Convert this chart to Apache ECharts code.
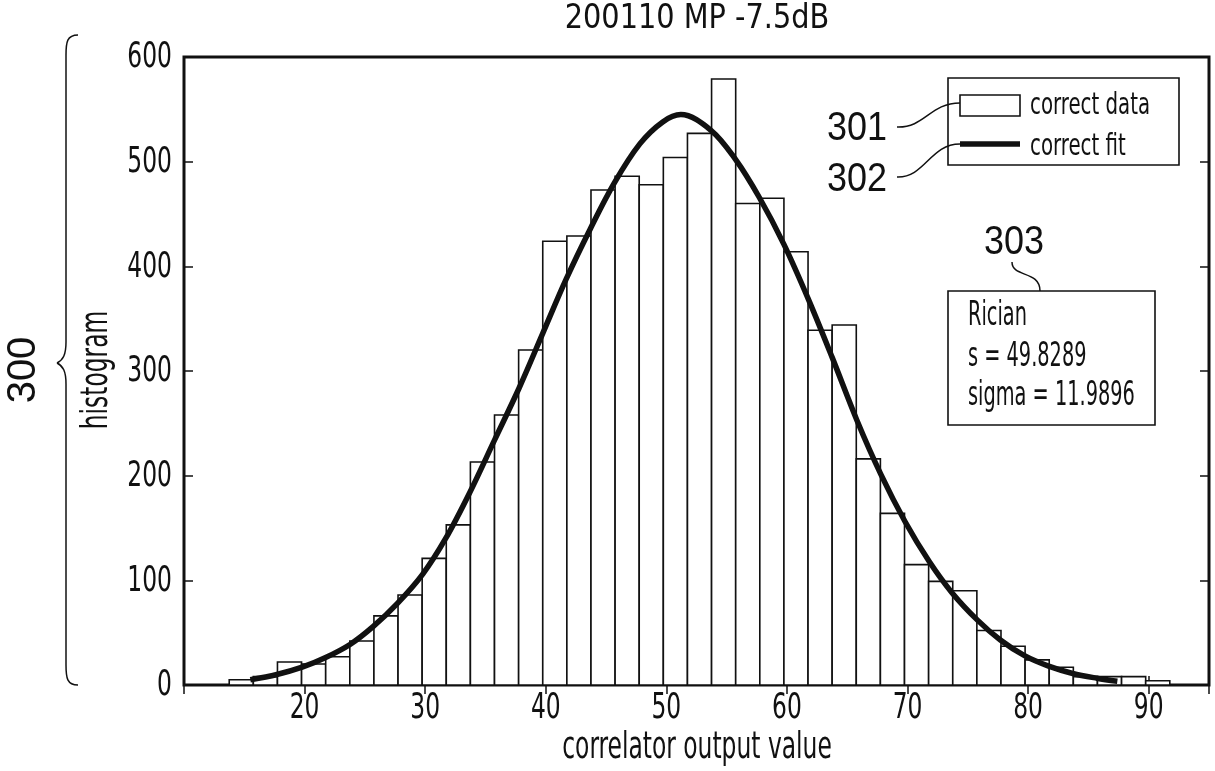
<!DOCTYPE html>
<html>
<head>
<meta charset="utf-8">
<script src="https://cdn.jsdelivr.net/npm/echarts@6/dist/echarts.min.js"></script>
<style>
html,body{margin:0;padding:0;background:#fff;}
#chart{width:1215px;height:771px;}
</style>
</head>
<body>
<div id="chart"></div>
<script>
// ---- data ----
const titleText = '200110 MP -7.5dB';
const xAxisName = 'correlator output value';
const yAxisName = 'histogram';
const xTickLabels = [20,30,40,50,60,70,80,90];
const yTickLabels = [0,100,200,300,400,500,600];
const binWidth = 2;
const binCenters = [14.75,16.75,18.75,20.75,22.75,24.75,26.75,28.75,30.75,32.75,
  34.75,36.75,38.75,40.75,42.75,44.75,46.75,48.75,50.75,52.75,
  54.75,56.75,58.75,60.75,62.75,64.75,66.75,68.75,70.75,72.75,
  74.75,76.75,78.75,80.75,82.75,84.75,86.75,88.75,90.75];
const binCounts = [5,8,22,20,27,42,66,86,121,153,
  213,258,320,424,429,473,486,478,504,527,
  579,460,465,414,339,344,216,164,115,99,
  90,52,37,24,17,8,8,8,4];
const fitX = [15.5,17.7,19.8,21.7,23.8,25.7,27.7,29.8,31.7,33.7,35.75,37.8,39.75,41.7,43.7,45.7,47.8,49.7,51.2,53.7,55.75,57.7,59.75,61.8,63.75,65.8,67.8,69.8,71.8,73.7,75.8,77.7,79.7,81.7,83.7,85.7,87.4];
const fitY = [5,10,17,26,39,56,78,106,140,184,234,284,336,388,436,480,517,538,545,530,502,466,421,368,313,253,201,156,118,88,62,43,28,18,11,6.5,3.6];
const legendLabels = ['correct data','correct fit'];
const statsLines = ['Rician','s = 49.8289','sigma = 11.9896'];
const refLabels = ['300','301','302','303'];

const FONT = "'Liberation Sans Narrow','DejaVu Sans Condensed','Liberation Sans',sans-serif";
const REFFONT = "'Liberation Sans',Arial,sans-serif";
const INK = '#111';

const chart = echarts.init(document.getElementById('chart'));

const histData = binCenters.map((c,i)=>[c - binWidth/2, c + binWidth/2, binCounts[i]]);
const fitData = fitX.map((x,i)=>[x, fitY[i]]);

const tickStyle = {show: true, inside: true, length: 9, lineStyle: {color: INK, width: 1.5}};

chart.setOption({
  animation: false,
  backgroundColor: '#fff',
  grid: {left: 184, right: 6, top: 57, bottom: 86, show: true, borderColor: INK, borderWidth: 3, backgroundColor: '#fff'},
  xAxis: [{
    type: 'value', min: 10, max: 95, interval: 10,
    axisLine: {show: false}, axisTick: tickStyle,
    axisLabel: {show: false}, splitLine: {show: false}
  },{
    type: 'value', min: 10, max: 95, interval: 10, position: 'top',
    axisLine: {show: false}, axisTick: tickStyle,
    axisLabel: {show: false}, splitLine: {show: false}
  }],
  yAxis: [{
    type: 'value', min: 0, max: 600, interval: 100,
    axisLine: {show: false}, axisTick: tickStyle,
    axisLabel: {show: false}, splitLine: {show: false}
  },{
    type: 'value', min: 0, max: 600, interval: 100, position: 'right',
    axisLine: {show: false}, axisTick: tickStyle,
    axisLabel: {show: false}, splitLine: {show: false}
  }],
  series: [{
    name: legendLabels[0],
    type: 'custom',
    data: histData,
    encode: {x: [0,1], y: 2},
    renderItem: function(params, api){
      const p0 = api.coord([api.value(0), api.value(2)]);
      const p1 = api.coord([api.value(1), 0]);
      return {
        type: 'rect',
        shape: {x: p0[0], y: p0[1], width: p1[0]-p0[0], height: p1[1]-p0[1]},
        style: {fill: '#fff', stroke: INK, lineWidth: 1.6}
      };
    },
    z: 2
  },{
    name: legendLabels[1],
    type: 'line',
    data: fitData,
    smooth: 0.35,
    showSymbol: false,
    lineStyle: {color: INK, width: 5.5},
    z: 3
  }]
});

// --- text & annotations (tall, condensed lettering as in the reference) ---
function txt(text, x, y, size, sy, opts){
  opts = opts || {};
  return {
    type: 'text', x: x, y: y, scaleY: sy, rotation: opts.rotation || 0, z: 20,
    style: {text: text, font: size + 'px ' + (opts.family || FONT), fill: INK,
      align: opts.align || 'center', verticalAlign: 'middle'}
  };
}
function bez(x1,y1,cx1,cy1,cx2,cy2,x2,y2){
  return {type: 'bezierCurve', shape: {x1:x1,y1:y1,cpx1:cx1,cpy1:cy1,cpx2:cx2,cpy2:cy2,x2:x2,y2:y2},
    style: {fill: null, stroke: INK, lineWidth: 1.5}, z: 11};
}
function seg(x1,y1,x2,y2){
  return {type: 'line', shape: {x1:x1,y1:y1,x2:x2,y2:y2}, style: {stroke: INK, lineWidth: 1.5}, z: 11};
}

const g = [];
// tick labels positioned through the axes' own scales
xTickLabels.forEach(v => {
  const p = chart.convertToPixel({gridIndex: 0}, [v, 0]);
  g.push(txt(String(v), p[0], p[1] + 24, 26, 1.37));
});
yTickLabels.forEach(v => {
  const p = chart.convertToPixel({gridIndex: 0}, [10, v]);
  g.push(txt(String(v), p[0] - 12, p[1] + 1, 26, 1.37, {align: 'right'}));
});
g.push(txt(titleText, 697, 19, 32, 1.05));
g.push(txt(xAxisName, 697, 749, 26, 1.4));
g.push(txt(yAxisName, 98, 370, 26, 1.4, {rotation: Math.PI/2}));

// legend box
g.push({type: 'rect', shape: {x: 948, y: 78, width: 231, height: 87}, style: {fill: '#fff', stroke: INK, lineWidth: 1.6}, z: 10});
g.push({type: 'rect', shape: {x: 960, y: 95, width: 60, height: 21}, style: {fill: '#fff', stroke: INK, lineWidth: 1.6}, z: 11});
g.push(txt(legendLabels[0], 1030, 106, 22, 1.35, {align: 'left'}));
g.push({type: 'line', shape: {x1: 960, y1: 144, x2: 1020, y2: 144}, style: {stroke: INK, lineWidth: 5.5}, z: 11});
g.push(txt(legendLabels[1], 1030, 147, 22, 1.35, {align: 'left'}));

// stats box
g.push({type: 'rect', shape: {x: 948, y: 291, width: 207, height: 134}, style: {fill: '#fff', stroke: INK, lineWidth: 1.6}, z: 10});
g.push(txt(statsLines[0], 968, 316, 21.5, 1.6, {align: 'left'}));
g.push(txt(statsLines[1], 968, 357, 21.5, 1.6, {align: 'left'}));
g.push(txt(statsLines[2], 968, 396, 21.5, 1.6, {align: 'left'}));

// reference numerals
g.push(txt(refLabels[1], 857, 129, 36, 1.15, {family: REFFONT}));
g.push(txt(refLabels[2], 857, 180, 36, 1.15, {family: REFFONT}));
g.push(txt(refLabels[3], 1014, 243, 36, 1.15, {family: REFFONT}));
g.push(txt(refLabels[0], 24, 370, 40, 1.0, {family: REFFONT, rotation: Math.PI/2}));

// leader lines
g.push(bez(897,127, 925,128, 930,103, 960,103));
g.push(bez(897,177, 925,178, 930,144, 960,144));
g.push(bez(1012,262, 1012,278, 1040,270, 1040,291));
// brace
g.push(bez(78,35, 67,35, 66,42, 66,55));
g.push(seg(66,55, 66,342));
g.push(bez(66,342, 66,355, 63,360, 57,363));
g.push(bez(57,363, 63,366, 66,371, 66,384));
g.push(seg(66,384, 66,665));
g.push(bez(66,665, 66,678, 67,685, 78,685));

chart.setOption({graphic: g});
</script>
</body>
</html>
